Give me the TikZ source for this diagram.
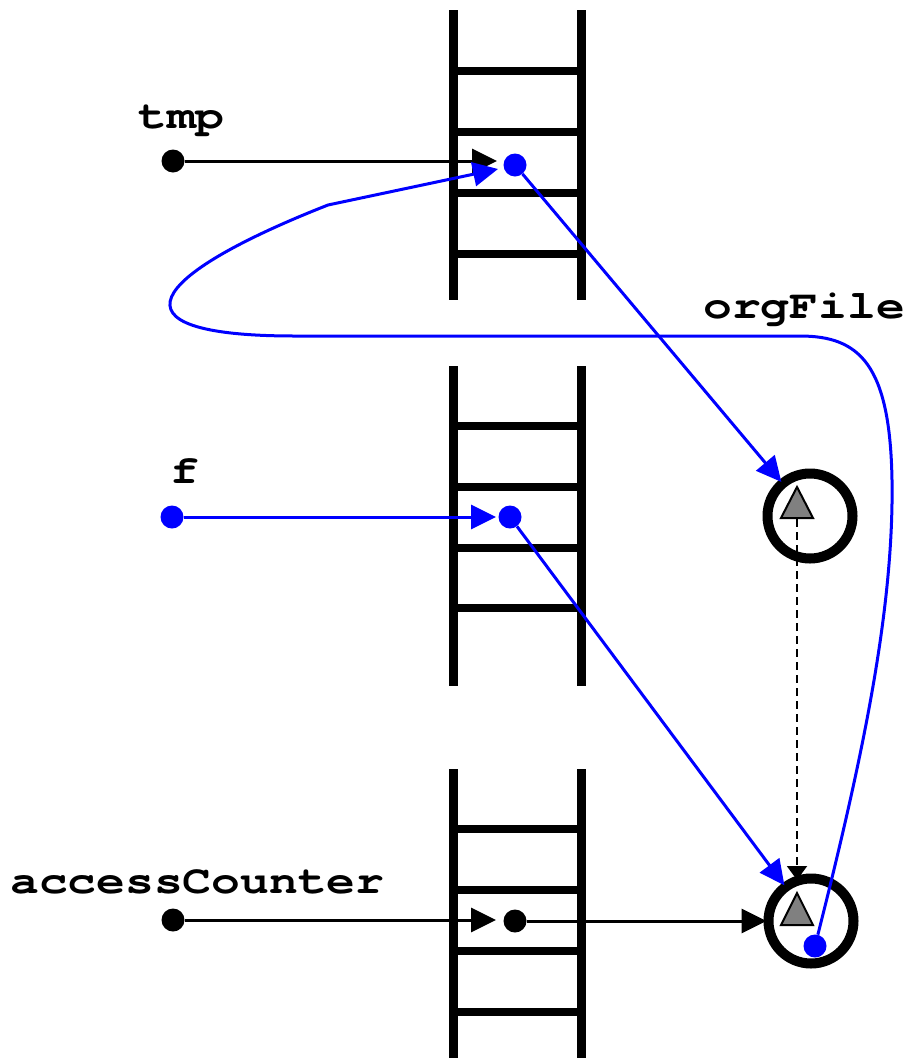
\documentclass[tikz,border=0pt]{standalone}
\usepackage{fontspec}
\newfontfamily\lblfont[FakeStretch=1.2]{texgyrecursor-bold.otf}
\usetikzlibrary{arrows.meta}
\begin{document}
\begin{tikzpicture}[x=1pt,y=-1pt,
  rail/.style={line width=9pt},
  rungline/.style={line width=8pt},
  blk/.style={circle,fill=black,inner sep=0pt,minimum size=23pt},
  blu/.style={circle,fill=blue,inner sep=0pt,minimum size=23pt},
  ring/.style={circle,draw=black,line width=10pt,minimum size=85pt,inner sep=0pt,outer sep=2pt},
  conn/.style={line width=3pt,-{Triangle[length=25pt,width=24pt]}},
  dconn/.style={line width=2pt,dash pattern=on 8pt off 5pt,-{Triangle[length=14pt,width=20pt]}},
  lbl/.style={font=\lblfont\fontsize{40}{42}\selectfont,inner sep=0pt,anchor=base west},
  tri/.style={fill=gray,draw=black,line width=2pt,line join=miter}]
\useasboundingbox (0,0) rectangle (910,1058);

% ladders
\foreach \top/\bot/\ra/\rb/\rc/\rd in {10/300/71/132/193/254, 366/686/426/487/548/608, 769/1058/829/890/951/1012}{
  \draw[rail] (453,\top) -- (453,\bot);
  \draw[rail] (581,\top) -- (581,\bot);
  \foreach \y in {\ra,\rb,\rc,\rd}{
    \draw[rungline] (453,\y) -- (581,\y);
  }
}

% rings and triangles
\node[ring] (c1) at (810,516) {};
\node[ring] (c2) at (811,921) {};
\draw[tri] (797,487) -- (813,518) -- (781,518) -- cycle;
\draw[tri] (797,893) -- (813,925) -- (781,925) -- cycle;
\coordinate (t1) at (797,519);
\coordinate (d2) at (797,880);

% dots
\node[blk] (tmp) at (173,161) {};
\node[blu] (m1) at (515,165) {};
\node[blu] (fdot) at (172,517) {};
\node[blu] (m2) at (510,517) {};
\node[blk] (acc) at (173,920) {};
\node[blk] (m3) at (515,921) {};
\node[blu] (loopdot) at (815,946) {};

\coordinate (tmpend) at (497,161);
\coordinate (fend) at (496,517);
\coordinate (accend) at (496,920);
\coordinate (loopend) at (498,169);

% connectors
\draw[conn] (tmp) -- (tmpend);
\draw[conn,blue] (fdot) -- (fend);
\draw[conn] (acc) -- (accend);
\draw[conn,blue] (m1) -- (c1);
\draw[conn,blue] (m2) -- (c2);
\draw[conn] (m3) -- (c2);
\draw[dconn] (t1) -- (d2);
\draw[conn,blue] (loopdot) .. controls (862,760) and (894,610) .. (892,480)
  .. controls (890,365) and (860,336) .. (800,336) -- (295,336)
  .. controls (100,336) and (150,275) .. (328,205) -- (loopend);

% labels
\node[lbl] (ltmp) at (138,128) {tmp};
\node[lbl] (lf) at (170,483) {f};
\node[lbl] (lorg) at (703,318) {orgFile};
\node[lbl] (lacc) at (10,893) {accessCounter};
\end{tikzpicture}
\end{document}
